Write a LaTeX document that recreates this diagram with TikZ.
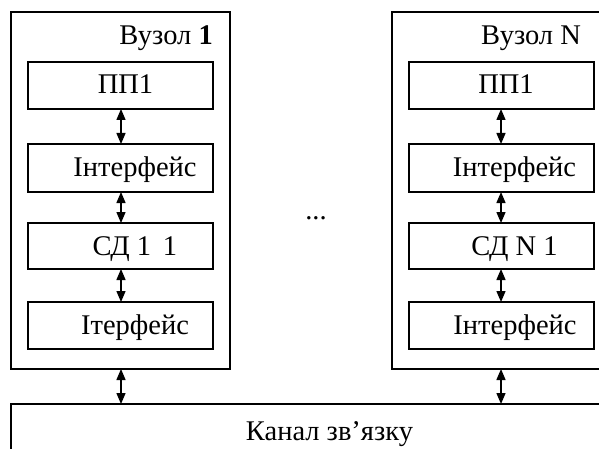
\documentclass[tikz,border=0pt]{standalone}
\usepackage{fontspec}
\setmainfont{Liberation Serif}
\usetikzlibrary{arrows.meta}
\begin{document}
\begin{tikzpicture}[x=1pt,y=-1pt,
  boxline/.style={draw=black,line width=1.3pt},
  lbl/.style={anchor=base,inner sep=0pt,font=\fontsize{28.5}{32}\selectfont},
  dbl/.style={line width=1.4pt,{Triangle[length=11pt,width=9pt]}-{Triangle[length=11pt,width=9pt]}}]
\useasboundingbox (0,0) rectangle (599,449);
\clip (0,0) rectangle (599,449);
% outer node boxes
\draw[boxline] (11,12) rectangle (230,369);
\draw[boxline] (392,12) rectangle (640,369);
% channel
\draw[boxline] (11,470) |- (640,404);
\coordinate (chL) at (121,404);
\coordinate (chR) at (501,404);
\coordinate (oL) at (121,369);
\coordinate (oR) at (501,369);
% inner boxes
\foreach \n/\t/\b in {a/62/109,b/144/192,c/223/269,d/302/349}{
  \draw[boxline] (28,\t) rectangle (213,\b);
  \coordinate (L\n t) at (121,\t);
  \coordinate (L\n b) at (121,\b);
  \draw[boxline] (409,\t) rectangle (594,\b);
  \coordinate (R\n t) at (501,\t);
  \coordinate (R\n b) at (501,\b);
}
% arrows
\draw[dbl] (Lab) -- (Lbt);
\draw[dbl] (Lbb) -- (Lct);
\draw[dbl] (Lcb) -- (Ldt);
\draw[dbl] (oL) -- (chL);
\draw[dbl] (Rab) -- (Rbt);
\draw[dbl] (Rbb) -- (Rct);
\draw[dbl] (Rcb) -- (Rdt);
\draw[dbl] (oR) -- (chR);
% labels
\node[lbl,anchor=base east] (t1) at (213,45) {Вузол \textbf{1}};
\node[lbl] (t2) at (531,45) {Вузол N};
\node[lbl] (l1) at (125.5,94) {ПП1};
\node[lbl] (l2) at (135,176) {Інтерфейс};
\node[lbl] (l3) at (135,255) {СД 1\, 1};
\node[lbl] (l4) at (135,334) {Ітерфейс};
\node[lbl] (r1) at (506,94) {ПП1};
\node[lbl] (r2) at (514.5,176) {Інтерфейс};
\node[lbl] (r3) at (514.5,255) {СД N 1};
\node[lbl] (r4) at (515,334) {Інтерфейс};
\node[lbl] (dots) at (316,219) {...};
\node[lbl] (ch) at (329.5,440) {Канал зв’язку};
\end{tikzpicture}
\end{document}
